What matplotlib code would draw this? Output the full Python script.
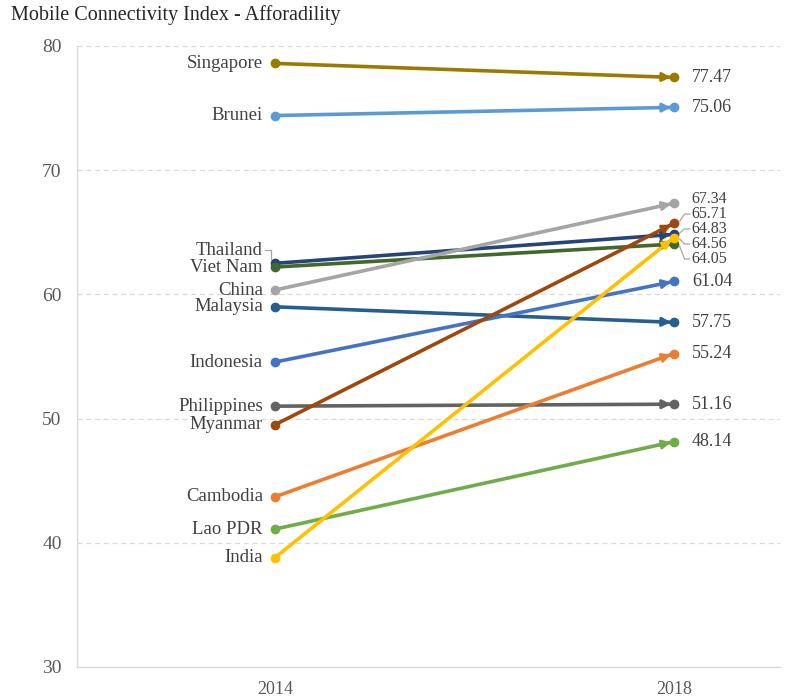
import matplotlib
matplotlib.use("Agg")
import matplotlib.pyplot as plt

countries = ["Singapore", "Brunei", "Thailand", "Viet Nam", "China", "Malaysia",
             "Indonesia", "Philippines", "Myanmar", "Cambodia", "Lao PDR", "India"]
v2014 = [78.6, 74.4, 62.5, 62.2, 60.35, 59.0, 54.55, 51.0, 49.5, 43.7, 41.1, 38.8]
v2018 = [77.47, 75.06, 64.83, 64.05, 67.34, 57.75, 61.04, 51.16, 65.71, 55.24, 48.14, 64.56]
colors = ["#9C7A00", "#5B9BD5", "#264478", "#43682B", "#A5A5A5", "#255E91",
          "#4472C4", "#636363", "#9E480E", "#ED7D31", "#70AD47", "#FFC000"]
years = ["2014", "2018"]
title = "Mobile Connectivity Index - Afforadility"

plt.rcParams['font.family'] = ['Liberation Serif', 'DejaVu Serif']

fig = plt.figure(figsize=(7.91, 6.99), dpi=100)
ax = fig.add_axes([0.0973, 0.0458, 0.8887, 0.8884])

for i in range(len(countries)):
    y0, y1 = v2014[i], v2018[i]
    c = colors[i]
    ax.plot([0, 1], [y0, y1], color=c, lw=2.6, solid_capstyle='round', zorder=3)
    ax.plot([0], [y0], marker='o', ms=6, color=c, zorder=4)
    ax.plot([1], [y1], marker='o', ms=6, color=c, zorder=4)
    t = 0.96
    ax.annotate('', xy=(1, y1), xytext=(t, y0 + t * (y1 - y0)),
                arrowprops=dict(arrowstyle='-|>', color=c, lw=2.0,
                                mutation_scale=13, shrinkA=0, shrinkB=2),
                zorder=4)

txt_col = "#404040"
lead_col = "#A6A6A6"

# left labels
left_pos = {"Thailand": 63.57}
for i, name in enumerate(countries):
    y = left_pos.get(name, v2014[i])
    ax.text(-0.03, y, name, ha='right', va='center', fontsize=13.5, color=txt_col, zorder=5)
ax.plot([-0.024, -0.009, -0.009], [63.57, 63.57, 62.85], color=lead_col, lw=0.9, zorder=2)

# right labels (crowded ones spread out and slightly smaller)
right_pos = {"China": 67.68, "Myanmar": 66.47, "Thailand": 65.27, "India": 64.06, "Viet Nam": 62.85}
for i, name in enumerate(countries):
    y = right_pos.get(name, v2018[i])
    fsz = 11.5 if name in right_pos else 13
    ax.text(1.045, y, f"{v2018[i]:.2f}", ha='left', va='center', fontsize=fsz,
            color=txt_col, zorder=5)
ax.plot([1.015, 1.027, 1.04], [65.9, 66.47, 66.47], color=lead_col, lw=0.9, zorder=2)
ax.plot([1.015, 1.027, 1.04], [64.95, 65.27, 65.27], color=lead_col, lw=0.9, zorder=2)
ax.plot([1.015, 1.027, 1.04], [64.45, 64.06, 64.06], color=lead_col, lw=0.9, zorder=2)
ax.plot([1.015, 1.027, 1.04], [63.85, 62.85, 62.85], color=lead_col, lw=0.9, zorder=2)

ax.set_xlim(-0.496, 1.266)
ax.set_ylim(30, 80)
ax.set_xticks([0, 1])
ax.set_xticklabels(years)
ax.set_yticks([30, 40, 50, 60, 70, 80])
ax.tick_params(axis='both', length=0, colors="#595959")
ax.tick_params(axis='x', pad=10, labelsize=13)
ax.tick_params(axis='y', pad=11, labelsize=14)
for yv in [40, 50, 60, 70, 80]:
    ax.axhline(yv, color="#D9D9D9", lw=0.9, ls=(0, (4, 3)), zorder=1)
for s in ['top', 'right']:
    ax.spines[s].set_visible(False)
for s in ['left', 'bottom']:
    ax.spines[s].set_color("#D9D9D9")
    ax.spines[s].set_linewidth(1.0)

fig.text(0.0139, 0.979, title, ha='left', va='center', fontsize=14.5, color="#262626")

fig.savefig("out.png", dpi=100, facecolor="white")
